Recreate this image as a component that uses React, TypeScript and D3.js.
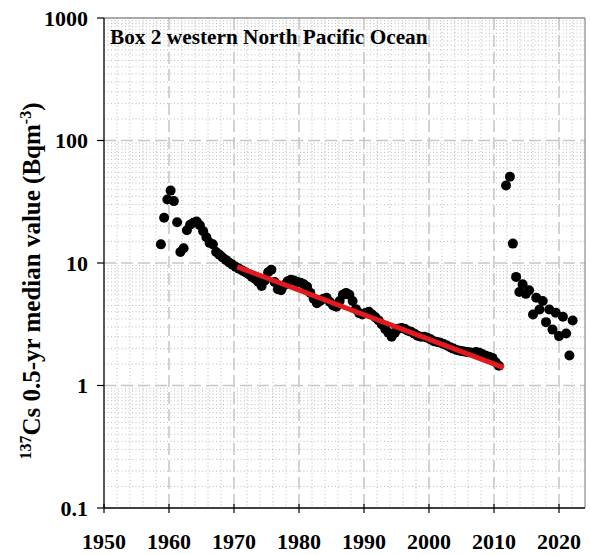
import React from "react";
import * as d3 from "d3";

const chainYears = [
  1958.75, 1959.25, 1959.75, 1960.25, 1960.75, 1961.25, 1961.75, 1962.25, 1962.75, 1963.25,
  1963.75, 1964.25, 1964.75, 1965.25, 1965.75, 1966.25, 1966.75, 1967.25, 1967.75, 1968.25,
  1968.75, 1969.25, 1969.75, 1970.25, 1970.75, 1971.25, 1971.75, 1972.25, 1972.75, 1973.25,
  1973.75, 1974.25, 1974.75, 1975.25, 1975.75, 1976.25, 1976.75, 1977.25, 1977.75, 1978.25,
  1978.75, 1979.25, 1979.75, 1980.25, 1980.75, 1981.25, 1981.75, 1982.25, 1982.75, 1983.25,
  1983.75, 1984.25, 1984.75, 1985.25, 1985.75, 1986.25, 1986.75, 1987.25, 1987.75, 1988.25,
  1988.75, 1989.25, 1989.75, 1990.25, 1990.75, 1991.25, 1991.75, 1992.25, 1992.75, 1993.25,
  1993.75, 1994.25, 1994.75, 1995.25, 1995.75, 1996.25, 1996.75, 1997.25, 1997.75, 1998.25,
  1998.75, 1999.25, 1999.75, 2000.25, 2000.75, 2001.25, 2001.75, 2002.25, 2002.75, 2003.25,
  2003.75, 2004.25, 2004.75, 2005.25, 2005.75, 2006.25, 2006.75, 2007.25, 2007.75, 2008.25,
  2008.75, 2009.25, 2009.75, 2010.25, 2010.75,
];
const chainValues = [
  14.2, 23.4, 33, 39, 32, 21.5, 12.3, 13.2, 18.5, 20.5,
  21.3, 21.8, 20.3, 18.2, 16.2, 14.6, 14.2, 12.3, 11.7, 11.1,
  10.6, 10.1, 9.7, 9.3, 9.0, 8.7, 8.4, 8.1, 7.7, 7.4,
  7.0, 6.5, 7.2, 8.4, 8.8, 7.0, 6.1, 6.0, 6.6, 7.1,
  7.3, 7.2, 7.0, 6.9, 6.7, 6.4, 5.7, 5.1, 4.7, 4.9,
  5.1, 5.2, 4.8, 4.5, 4.4, 4.9, 5.5, 5.7, 5.5, 4.9,
  4.2, 3.9, 3.8, 3.9, 4.0, 3.8, 3.6, 3.4, 3.15, 2.9,
  2.7, 2.5, 2.7, 2.9, 2.95, 2.9, 2.8, 2.75, 2.65, 2.55,
  2.5, 2.5, 2.45, 2.38, 2.3, 2.27, 2.23, 2.18, 2.12, 2.05,
  2.0, 1.95, 1.92, 1.9, 1.88, 1.87, 1.85, 1.88, 1.85, 1.8,
  1.75, 1.72, 1.68, 1.55, 1.45,
];
const postYears = [
  2011.85, 2012.45, 2012.9, 2013.4, 2013.9, 2014.4, 2014.9, 2015.4, 2016.0, 2016.5,
  2017.0, 2017.5, 2018.0, 2018.5, 2019.0, 2019.5, 2020.0, 2020.6, 2021.1, 2021.6, 2022.1,
];
const postValues = [
  42.9, 50.6, 14.4, 7.7, 5.8, 6.7, 5.6, 6.0, 3.8, 5.2,
  4.17, 4.9, 3.29, 4.17, 2.86, 3.92, 2.53, 3.64, 2.66, 1.76, 3.39,
];
const fitYears = [1970.5, 2011.5];
const fitValues = [9.3, 1.4];
const xTicks = [1950, 1960, 1970, 1980, 1990, 2000, 2010, 2020];
const yTicks = [0.1, 1, 10, 100, 1000];
const yTickLabels = ["0.1", "1", "10", "100", "1000"];
const title = "Box 2 western North Pacific Ocean";

const W = 590;
const H = 555;
const L = 104;
const R = 585;
const T = 18;
const B = 508;
const FONT = "'Liberation Serif', 'Times New Roman', serif";

export default function App() {
  const x = d3.scaleLinear().domain([1950, 2024]).range([L, R]);
  const y = d3.scaleLog().domain([0.1, 1000]).range([B, T]);

  const minorX = d3.range(1952, 2024, 2).filter((v) => v % 10 !== 0);
  const minorY: number[] = [];
  [0.1, 1, 10, 100].forEach((d) => {
    for (let k = 1.5; k < 10; k += 0.5) minorY.push(k * d);
  });
  const majorX = xTicks.filter((v) => v > 1950);
  const majorY = [1, 10, 100];

  const pts = chainYears
    .map((yr, i) => ({ yr, v: chainValues[i] }))
    .concat(postYears.map((yr, i) => ({ yr, v: postValues[i] })));

  const fitLine = d3
    .line<number>()
    .x((_, i) => x(fitYears[i]))
    .y((d) => y(d));

  return (
    <svg width={W} height={H} style={{ position: "absolute", left: 0, top: 0, background: "#fff" }}>
      <rect x={0} y={0} width={W} height={H} fill="#fff" />
      {/* minor grid */}
      <g stroke="#bdbdbd" strokeWidth={1} strokeDasharray="1,2.5">
        {minorX.map((v) => (
          <line key={"mx" + v} x1={x(v)} x2={x(v)} y1={T} y2={B} />
        ))}
        {minorY.map((v, i) => (
          <line key={"my" + i} x1={L} x2={R} y1={y(v)} y2={y(v)} />
        ))}
      </g>
      {/* major grid */}
      <g stroke="#c8c8c8" strokeWidth={1.6} strokeDasharray="12,5">
        {majorX.map((v) => (
          <line key={"Mx" + v} x1={x(v)} x2={x(v)} y1={T} y2={B} />
        ))}
        {majorY.map((v) => (
          <line key={"My" + v} x1={L} x2={R} y1={y(v)} y2={y(v)} />
        ))}
      </g>
      {/* frame */}
      <line x1={L} x2={R} y1={T} y2={T} stroke="#555" strokeWidth={1} />
      <line x1={R} x2={R} y1={T} y2={B} stroke="#777" strokeWidth={1} />
      <line x1={L} x2={L} y1={T} y2={B} stroke="#000" strokeWidth={1.3} />
      <line x1={L} x2={R} y1={B} y2={B} stroke="#000" strokeWidth={1.3} />
      {/* ticks */}
      {yTicks.map((v) => (
        <line key={"yt" + v} x1={L - 7} x2={L} y1={y(v)} y2={y(v)} stroke="#000" strokeWidth={1.2} />
      ))}
      {xTicks.map((v) => (
        <line key={"xt" + v} x1={x(v)} x2={x(v)} y1={B - 4} y2={B + 5} stroke="#000" strokeWidth={1.2} />
      ))}
      {/* tick labels */}
      <g fontFamily={FONT} fontWeight="bold" fontSize={22} fill="#000">
        {yTicks.map((v, i) => (
          <text key={"yl" + v} x={L - 16} y={y(v)} textAnchor="end" dominantBaseline="central">
            {yTickLabels[i]}
          </text>
        ))}
        {xTicks.map((v) => (
          <text key={"xl" + v} x={x(v)} y={549} textAnchor="middle">
            {v}
          </text>
        ))}
      </g>
      {/* y title */}
      <text
        transform={`translate(40,281) rotate(-90)`}
        textAnchor="middle"
        fontFamily={FONT}
        fontWeight="bold"
        fontSize={25}
        fill="#000"
      >
        <tspan fontSize={16} dy={-9}>137</tspan>
        <tspan dy={9}>Cs 0.5-yr median value (Bqm</tspan>
        <tspan fontSize={16} dy={-9}>-3</tspan>
        <tspan dy={9}>)</tspan>
      </text>
      {/* title */}
      <text x={110} y={44} fontFamily={FONT} fontWeight="bold" fontSize={21.3} fill="#000">
        {title}
      </text>
      {/* points */}
      <g fill="#000">
        {pts.map((p, i) => (
          <circle key={"p" + i} cx={x(p.yr)} cy={y(p.v)} r={5} />
        ))}
      </g>
      {/* fit */}
      <path d={fitLine(fitValues) || ""} stroke="#e3191c" strokeWidth={5} fill="none" />
    </svg>
  );
}
